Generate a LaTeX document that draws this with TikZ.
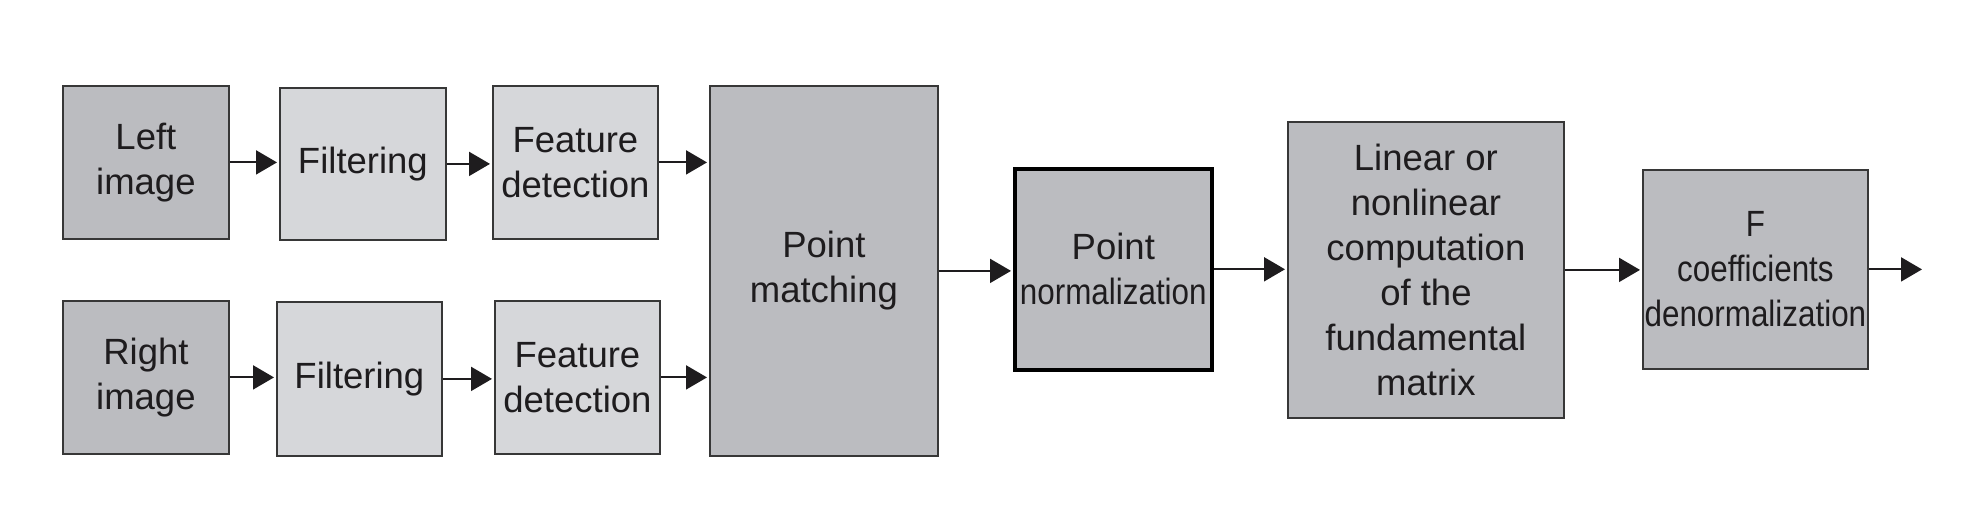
\documentclass[tikz,border=0pt]{standalone}
\usepackage{fontspec}
\setmainfont{Liberation Sans}
\newfontfamily\narrowfont[FakeStretch=0.86]{Liberation Sans}
\usetikzlibrary{arrows.meta}
\definecolor{boxdark}{RGB}{187,188,192}
\definecolor{boxlight}{RGB}{214,215,218}
\definecolor{edgegray}{RGB}{55,55,55}
\definecolor{ink}{RGB}{30,28,30}
\begin{document}
\begin{tikzpicture}[x=1pt,y=-1pt,
  blk/.style={draw=edgegray, line width=1.8pt, rectangle, inner sep=0pt, anchor=north west,
    align=center, text=ink, font=\fontsize{36.5}{45}\selectfont},
  dark/.style={blk, fill=boxdark},
  light/.style={blk, fill=boxlight},
  conn/.style={line width=2pt, draw=ink, shorten >=2pt, -{Triangle[length=21pt,width=24pt]}}]
\useasboundingbox (0,0) rectangle (1983,528);
% top row
\node[dark, minimum width=166pt, minimum height=153pt] (li) at (62,85) {Left\\image};
\node[light, minimum width=166pt, minimum height=152pt] (f1) at (279,87) {Filtering};
\node[light, minimum width=165pt, minimum height=153pt] (d1) at (492,85) {Feature\\detection};
% bottom row
\node[dark, minimum width=166pt, minimum height=153pt] (ri) at (62,300) {Right\\image};
\node[light, minimum width=165pt, minimum height=154pt] (f2) at (276,301) {Filtering};
\node[light, minimum width=165pt, minimum height=153pt] (d2) at (494,300) {Feature\\detection};
% main chain
\node[dark, minimum width=228pt, minimum height=370pt] (pm) at (709,85) {Point\\matching};
\node[dark, draw=black, line width=3.6pt, minimum width=197pt, minimum height=201pt] (pn) at (1013,167)
  {Point\\{\narrowfont normalization}};
\node[dark, minimum width=276pt, minimum height=296pt] (lc) at (1287,121)
  {Linear or\\nonlinear\\computation\\of the\\fundamental\\matrix};
\node[dark, minimum width=225pt, minimum height=199pt] (fc) at (1642,169)
  {\narrowfont F\\\narrowfont coefficients\\\narrowfont denormalization};
\coordinate (out) at (1924,269);
% connectors
\draw[conn] (li.east) -- (f1.west |- li.east);
\draw[conn] (f1.east) -- (d1.west |- f1.east);
\draw[conn] (d1.east) -- (pm.west |- d1.east);
\draw[conn] (ri.east) -- (f2.west |- ri.east);
\draw[conn] (f2.east) -- (d2.west |- f2.east);
\draw[conn] (d2.east) -- (pm.west |- d2.east);
\draw[conn] (pm.east) -- (pn.west |- pm.east);
\draw[conn] (pn.east) -- (lc.west |- pn.east);
\draw[conn] (lc.east) -- (fc.west |- lc.east);
\draw[conn] (fc.east) -- (out |- fc.east);
\end{tikzpicture}
\end{document}
